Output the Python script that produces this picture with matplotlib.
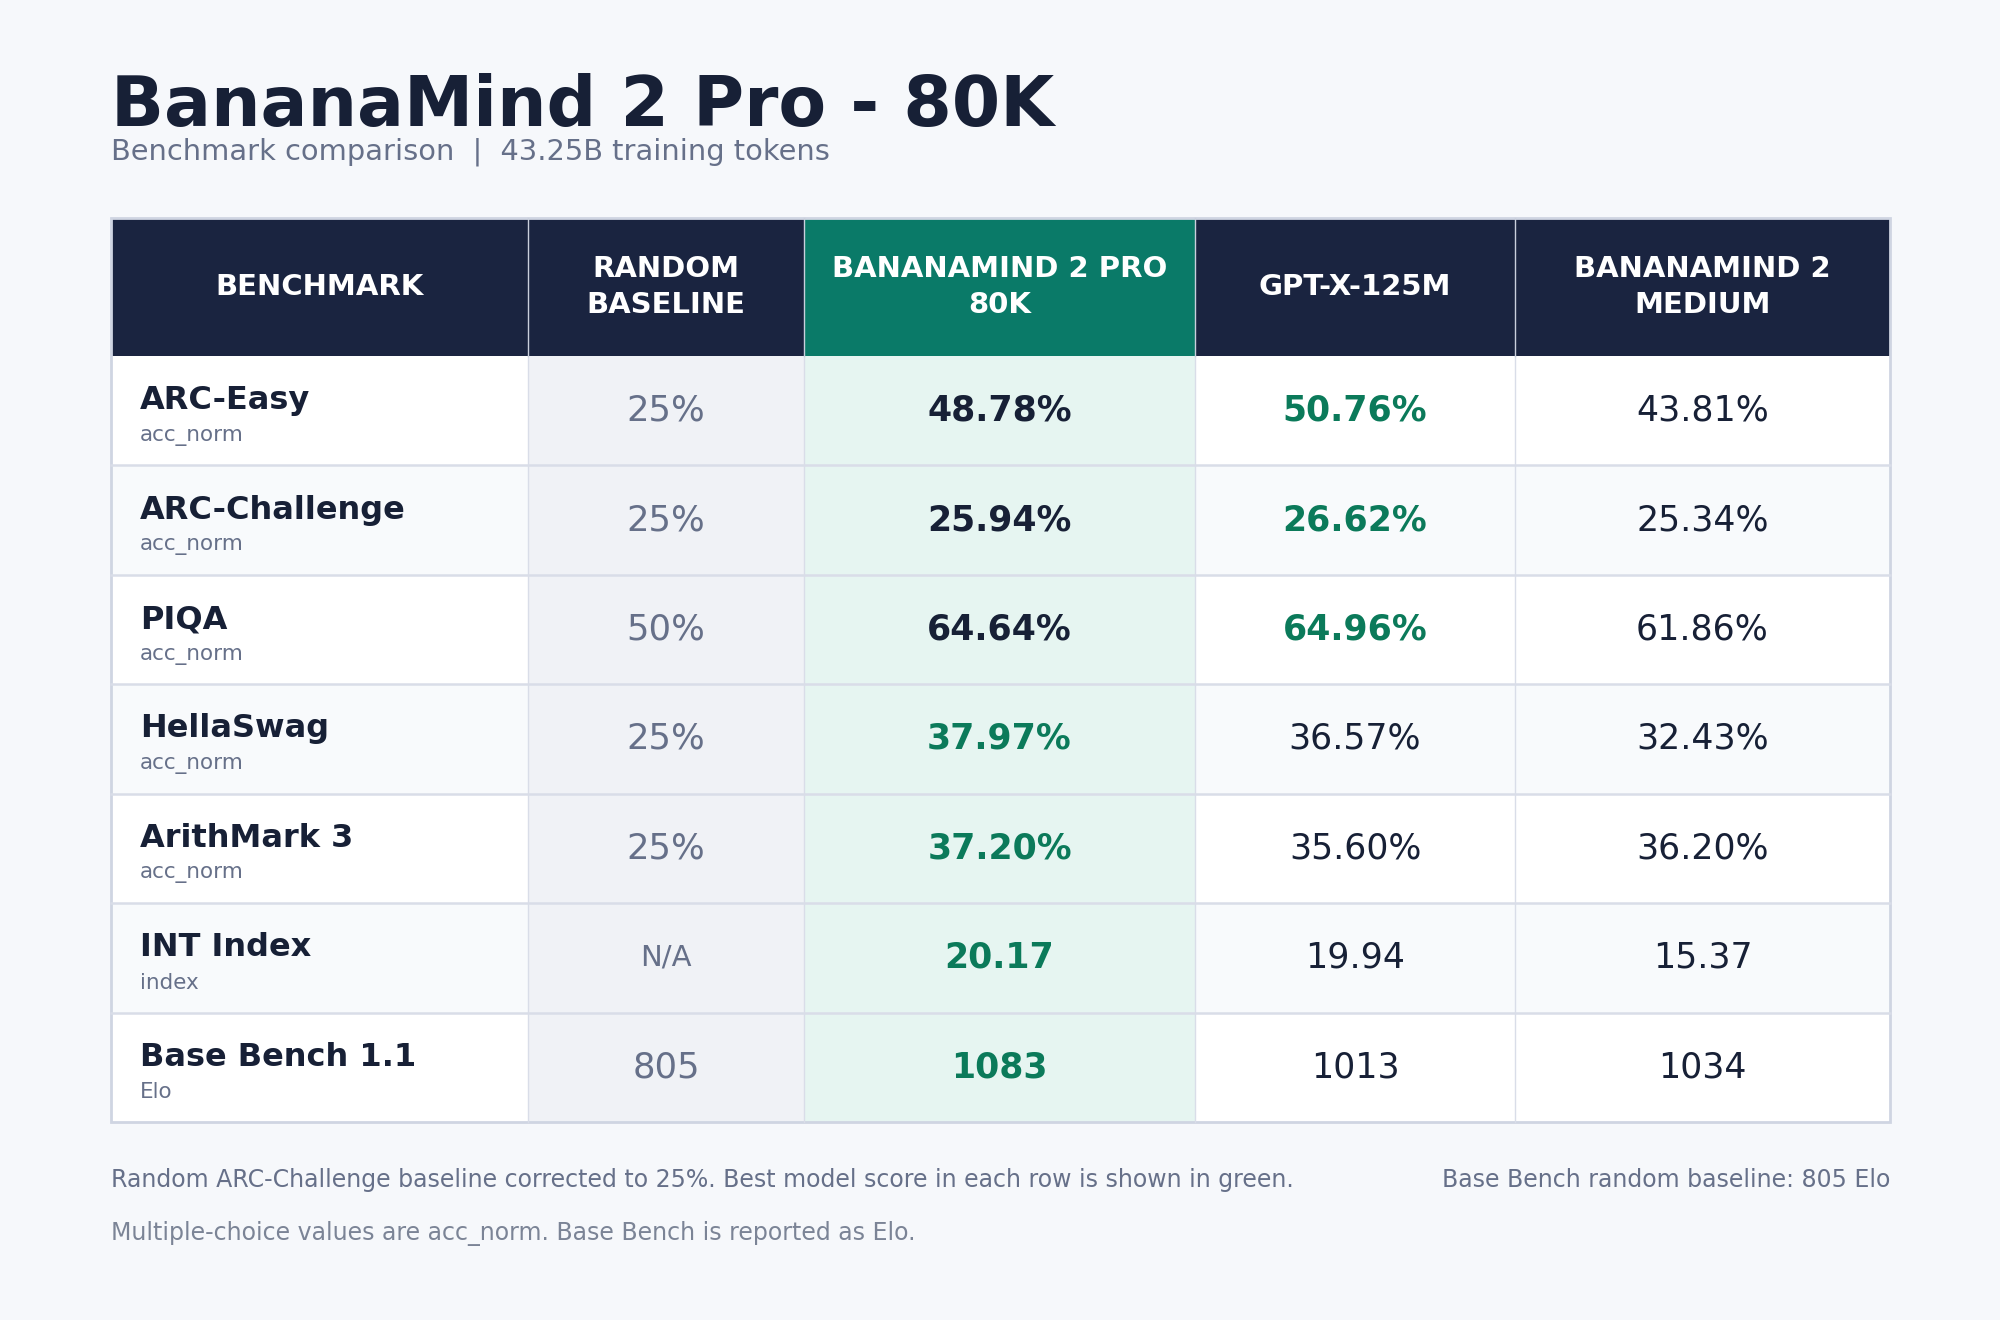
import matplotlib
matplotlib.use("Agg")
import matplotlib.pyplot as plt
from matplotlib.patches import Rectangle

plt.rcParams['font.family'] = ['DejaVu Sans']

# Données du tableau
benchmarks = ["ARC-Easy", "ARC-Challenge", "PIQA", "HellaSwag", "ArithMark 3", "INT Index", "Base Bench 1.1"]
metrics = ["acc_norm", "acc_norm", "acc_norm", "acc_norm", "acc_norm", "index", "Elo"]
units = ["%", "%", "%", "%", "%", "", "elo"]
random_baseline = ["25%", "25%", "50%", "25%", "25%", "N/A", "805"]
pro_80k = [48.78, 25.94, 64.64, 37.97, 37.20, 20.17, 1083]
gptx_125m = [50.76, 26.62, 64.96, 36.57, 35.60, 19.94, 1013]
medium = [43.81, 25.34, 61.86, 32.43, 36.20, 15.37, 1034]
headers = ["BENCHMARK", "RANDOM\nBASELINE", "BANANAMIND 2 PRO\n80K", "GPT-X-125M", "BANANAMIND 2\nMEDIUM"]

# Couleurs
BG = "#f6f8fb"
NAVY = "#1a2440"
TEAL = "#0a7a68"
DARK = "#172036"
GRAY = "#667089"
GREEN = "#0b7a5a"
LINE = "#d9dde8"

# Géométrie (pixels)
col_edges = [111, 528, 804, 1195, 1515, 1890]
top, head_bot, bottom = 218, 356, 1122
n = len(benchmarks)
row_h = (bottom - head_bot) / n


def fmt(v, u):
    if u == "%":
        return f"{v:.2f}%"
    if u == "elo":
        return f"{v:.0f}"
    return f"{v:.2f}"


fig = plt.figure(figsize=(20, 13.2), dpi=100, facecolor=BG)
ax = fig.add_axes([0, 0, 1, 1])
ax.set_xlim(0, 2000)
ax.set_ylim(1320, 0)
ax.axis("off")

# Titre
ax.text(111, 126, "BananaMind 2 Pro - 80K", fontsize=50, fontweight="bold", color=DARK, va="baseline")
ax.text(111, 159, "Benchmark comparison  |  43.25B training tokens", fontsize=20.8, color=GRAY, va="baseline")

# En-tête
for j, h in enumerate(headers):
    x0, x1 = col_edges[j], col_edges[j + 1]
    ax.add_patch(Rectangle((x0, top), x1 - x0, head_bot - top, facecolor=TEAL if j == 2 else NAVY,
                           edgecolor="none"))
    ax.text((x0 + x1) / 2, (top + head_bot) / 2, h, fontsize=21, fontweight="bold", color="white",
            ha="center", va="center", linespacing=1.35)

# Lignes
for i in range(n):
    y0 = head_bot + i * row_h
    yc = y0 + row_h / 2
    row_bg = "white" if i % 2 == 0 else "#f8fafc"
    fills = [row_bg, "#f0f2f6", "#e6f5f1", row_bg, row_bg]
    for j in range(5):
        x0, x1 = col_edges[j], col_edges[j + 1]
        ax.add_patch(Rectangle((x0, y0), x1 - x0, row_h, facecolor=fills[j], edgecolor="none"))

    ax.text(140, yc - 10, benchmarks[i], fontsize=23, fontweight="bold", color=DARK, va="center")
    ax.text(140, yc + 25, metrics[i], fontsize=15.5, color=GRAY, va="center")

    rb = random_baseline[i]
    ax.text((col_edges[1] + col_edges[2]) / 2, yc, rb, fontsize=21 if rb == "N/A" else 25.5,
            color=GRAY, ha="center", va="center")

    vals = [pro_80k[i], gptx_125m[i], medium[i]]
    best = max(vals)
    for k, v in enumerate(vals):
        j = k + 2
        xc = (col_edges[j] + col_edges[j + 1]) / 2
        is_best = v == best
        color = GREEN if is_best else DARK
        weight = "bold" if (is_best or j == 2) else "normal"
        ax.text(xc, yc, fmt(v, units[i]), fontsize=25, fontweight=weight, color=color,
                ha="center", va="center")

# Grille
for i in range(1, n):
    y = head_bot + i * row_h
    ax.plot([col_edges[0], col_edges[-1]], [y, y], color=LINE, lw=1.8)
for x in col_edges[1:-1]:
    ax.plot([x, x], [head_bot, bottom], color=LINE, lw=1.0)
    ax.plot([x, x], [top, head_bot], color="#c9cfdc", lw=1.0)
ax.add_patch(Rectangle((col_edges[0], top), col_edges[-1] - col_edges[0], bottom - top,
                       facecolor="none", edgecolor="#cfd5e2", lw=2))

# Notes
ax.text(111, 1180, "Random ARC-Challenge baseline corrected to 25%. Best model score in each row is shown in green.",
        fontsize=17, color=GRAY, va="center")
ax.text(1890, 1180, "Base Bench random baseline: 805 Elo", fontsize=17, color=GRAY, va="center", ha="right")
ax.text(111, 1234, "Multiple-choice values are acc_norm. Base Bench is reported as Elo.",
        fontsize=17, color="#7b8496", va="center")

fig.savefig("out.png", dpi=100, facecolor=BG)
